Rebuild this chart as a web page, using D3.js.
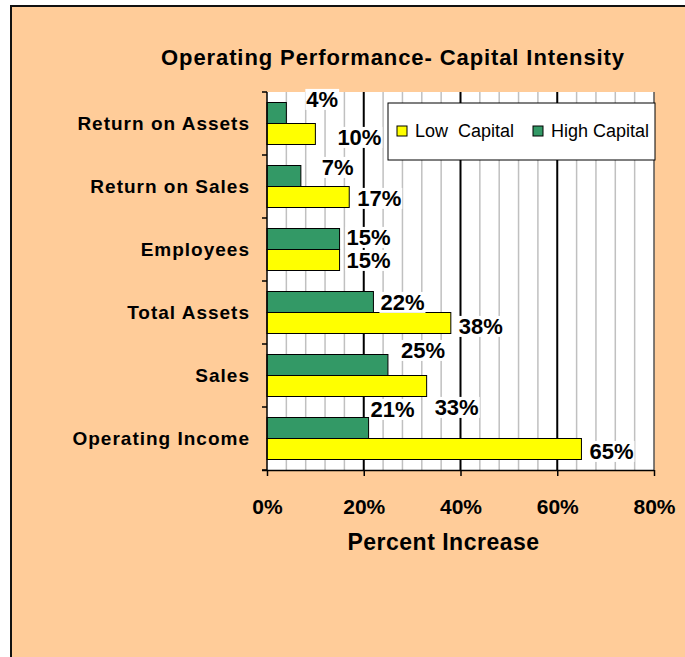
<!DOCTYPE html>
<html>
<head>
<meta charset="utf-8">
<script src="https://cdn.jsdelivr.net/npm/d3@7"></script>
<style>
  body { margin: 0; background: #fff; }
  text { font-family: "Liberation Sans", Arial, sans-serif; }
</style>
</head>
<body>
<div id="chart"></div>
<script>
const categories = ['Return on Assets', 'Return on Sales', 'Employees', 'Total Assets', 'Sales', 'Operating Income']
const seriesNames = ['High Capital', 'Low Capital']
const highCapital = [4, 7, 15, 22, 25, 21]
const lowCapital = [10, 17, 15, 38, 33, 65]
const xTicks = [0, 20, 40, 60, 80]

// hand-placed label nudges (Excel labels were dragged around)
const highNudge = [[13, -14], [14, -9], [0, -2], [0, 0], [6, -15], [-5, -19]]
const lowNudge = [[15, 3], [1, 1], [0, 0], [1, 3], [1, 21], [1, 2]]

const W = 685, H = 657
const plot = {left: 267, right: 654, top: 92, bottom: 470}
const colors = {'High Capital': '#339966', 'Low Capital': '#FFFF00'}

const svg = d3.select('#chart').append('svg')
  .attr('width', W).attr('height', H)

// chart frame
svg.append('rect')
  .attr('x', 11).attr('y', 6)
  .attr('width', W + 10).attr('height', H + 10)
  .attr('fill', '#FFCC99')
  .attr('stroke', '#111').attr('stroke-width', 2)

svg.append('text')
  .attr('x', 393).attr('y', 57).attr('dy', '0.35em')
  .attr('text-anchor', 'middle')
  .style('font-size', '22px').style('font-weight', 'bold')
  .style('letter-spacing', '0.9px')
  .text('Operating Performance- Capital Intensity')

const x = d3.scaleLinear().domain([0, 80]).range([plot.left, plot.right])
const y = d3.scaleBand().domain(categories)
  .range([plot.top, plot.bottom])
  .paddingInner(1 / 3).paddingOuter(1 / 6)
const ySub = d3.scaleBand().domain(seriesNames).range([0, y.bandwidth()])

// plot area
svg.append('rect')
  .attr('x', plot.left).attr('y', plot.top)
  .attr('width', plot.right - plot.left).attr('height', plot.bottom - plot.top)
  .attr('fill', '#fff')

const grid = svg.append('g')
grid.selectAll('line.minor')
  .data(d3.range(0, 81, 4).filter(v => v % 20 !== 0))
  .join('line')
  .attr('x1', d => x(d)).attr('x2', d => x(d))
  .attr('y1', plot.top).attr('y2', plot.bottom)
  .attr('stroke', '#c0c0c0').attr('stroke-width', 1.5)
grid.selectAll('line.major')
  .data(xTicks.slice(1, -1))
  .join('line')
  .attr('x1', d => x(d)).attr('x2', d => x(d))
  .attr('y1', plot.top).attr('y2', plot.bottom)
  .attr('stroke', '#000').attr('stroke-width', 2)
svg.append('line')
  .attr('x1', x(80)).attr('x2', x(80))
  .attr('y1', plot.top).attr('y2', plot.bottom)
  .attr('stroke', '#555').attr('stroke-width', 1.5)

// bars
const rows = categories.map((c, i) => ({
  cat: c,
  vals: [
    {s: 'High Capital', v: highCapital[i], n: highNudge[i]},
    {s: 'Low Capital', v: lowCapital[i], n: lowNudge[i]}
  ]
}))

const groups = svg.append('g').selectAll('g')
  .data(rows).join('g')
  .attr('transform', d => `translate(0,${y(d.cat)})`)

groups.selectAll('rect')
  .data(d => d.vals).join('rect')
  .attr('x', x(0))
  .attr('y', d => ySub(d.s))
  .attr('width', d => x(d.v) - x(0))
  .attr('height', ySub.bandwidth())
  .attr('fill', d => colors[d.s])
  .attr('stroke', '#000').attr('stroke-width', 1)

// x axis
const xAxis = svg.append('g')
  .attr('transform', `translate(0,${plot.bottom})`)
  .call(d3.axisBottom(x).tickValues(xTicks).tickFormat(d => d + '%').tickSize(6).tickPadding(23))
xAxis.select('.domain').attr('d', `M${plot.left - 5},0.5H${plot.right}`).attr('stroke', '#000').attr('stroke-width', 1.5)
xAxis.selectAll('.tick line').attr('stroke', '#000').attr('stroke-width', 1.5)
xAxis.selectAll('.tick text')
  .attr('fill', '#000')
  .style('font-size', '21px').style('font-weight', 'bold')
  .style('font-family', '"Liberation Sans", Arial, sans-serif')

svg.append('text')
  .attr('x', (plot.left + plot.right) / 2 - 17).attr('y', 542).attr('dy', '0.35em')
  .attr('text-anchor', 'middle')
  .style('font-size', '23px').style('font-weight', 'bold')
  .style('letter-spacing', '0.5px')
  .text('Percent Increase')

// y axis
const yAxis = svg.append('g')
  .attr('transform', `translate(${plot.left},0)`)
  .call(d3.axisLeft(y).tickSize(0).tickPadding(17))
yAxis.select('.domain').remove()
yAxis.append('line')
  .attr('y1', plot.top).attr('y2', plot.bottom)
  .attr('stroke', '#000').attr('stroke-width', 1.5)
yAxis.selectAll('.tick text')
  .attr('fill', '#000')
  .style('font-size', '19px').style('font-weight', 'bold')
  .style('letter-spacing', '1px')
  .style('font-family', '"Liberation Sans", Arial, sans-serif')
yAxis.selectAll('line.cat')
  .data(d3.range(categories.length + 1))
  .join('line')
  .attr('x1', -5).attr('x2', 0)
  .attr('y1', i => plot.top + i * y.step())
  .attr('y2', i => plot.top + i * y.step())
  .attr('stroke', '#000').attr('stroke-width', 1.5)

// data labels with white boxes
const labels = groups.selectAll('g.lbl')
  .data(d => d.vals).join('g')
  .attr('class', 'lbl')
  .attr('transform', d => `translate(${x(d.v) + 7 + d.n[0]},${ySub(d.s) + ySub.bandwidth() / 2 + d.n[1]})`)
const lblText = labels.append('text')
  .attr('dy', '0.36em')
  .style('font-size', '22px').style('font-weight', 'bold')
  .text(d => d.v + '%')
lblText.each(function () {
  const b = this.getBBox()
  d3.select(this.parentNode).insert('rect', 'text')
    .attr('x', b.x - 1).attr('y', b.y + 2)
    .attr('width', b.width + 2).attr('height', b.height - 4)
    .attr('fill', '#fff')
})

// legend
const legend = svg.append('g').attr('transform', 'translate(388,103)')
legend.append('rect')
  .attr('width', 267).attr('height', 57)
  .attr('fill', '#fff').attr('stroke', '#000').attr('stroke-width', 1)
const legendItems = [['Low Capital', 'Low\u00a0 Capital', 9], ['High Capital', 'High Capital', 145]]
legend.selectAll('g.item')
  .data(legendItems).join('g')
  .attr('transform', d => `translate(${d[2]},28)`)
  .each(function (d) {
    const g = d3.select(this)
    g.append('rect')
      .attr('x', 0).attr('y', -5).attr('width', 10).attr('height', 10)
      .attr('fill', colors[d[0]]).attr('stroke', '#000').attr('stroke-width', 1)
    g.append('text')
      .attr('x', 18).attr('dy', '0.35em')
      .style('font-size', '18px')
      .text(d[1])
  })
</script>
</body>
</html>
